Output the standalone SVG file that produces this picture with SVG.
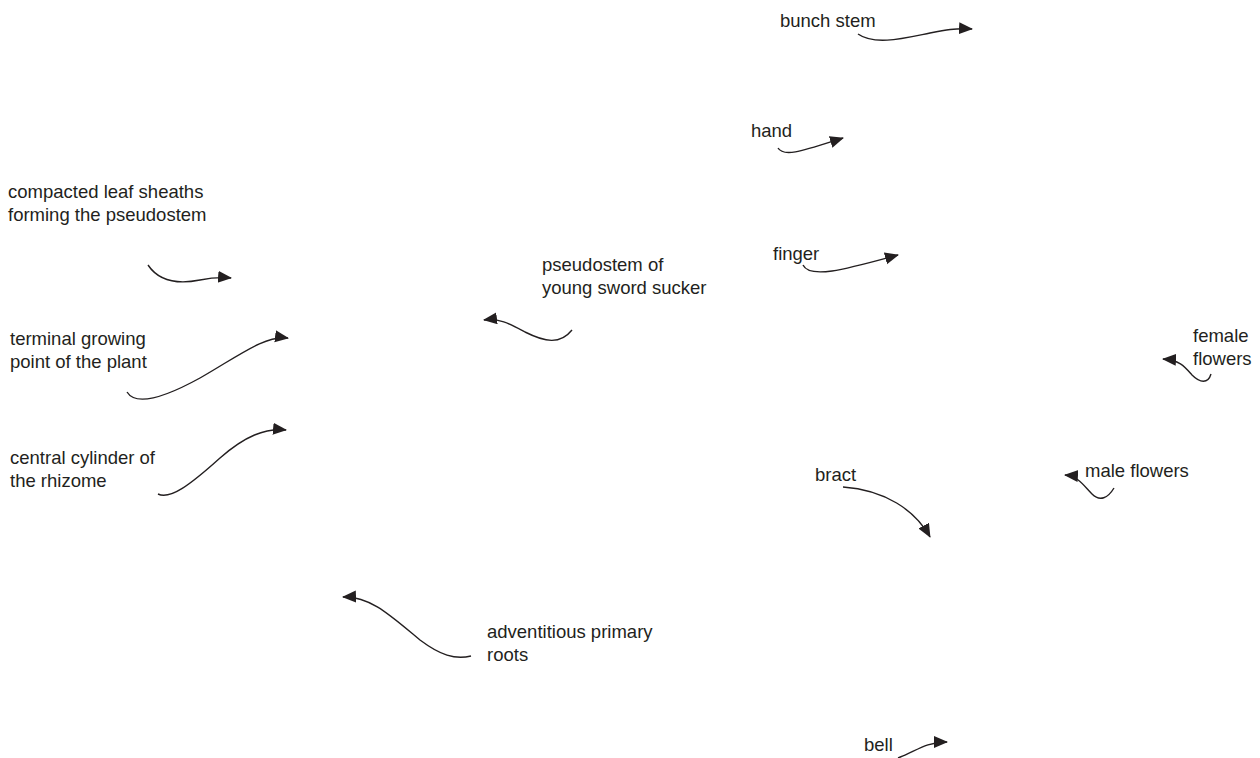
<svg xmlns="http://www.w3.org/2000/svg" width="1260" height="758" viewBox="0 0 1260 758">
<style>
text{font-family:"Liberation Sans",Arial,sans-serif;font-size:18.5px;fill:#231f20}
.c{fill:none;stroke:#231f20;stroke-width:1.4;marker-end:url(#ah)}
</style>
<defs>
<marker id="ah" markerUnits="userSpaceOnUse" markerWidth="16" markerHeight="14" refX="13" refY="6" orient="auto">
<path d="M0,0 L14,6 L0,12 z" fill="#231f20"/>
</marker>
</defs>
<rect width="1260" height="758" fill="#fff"/>
<g id="connectors">
<path class="c" d="M858,34 C875,46 905,38 930,33 C945,30 955,28 972,29"/>
<path class="c" d="M778,148 C784,158 805,150 843,138"/>
<path class="c" d="M803,265 C810,280 850,268 898,255"/>
<path class="c" d="M148,265 C158,280 175,285 200,280 C210,278 220,277 231,278"/>
<path class="c" d="M127,392 C135,405 160,400 200,378 C240,355 265,335 288,338"/>
<path class="c" d="M158,494 C170,500 190,485 220,458 C245,436 265,428 286,430"/>
<path class="c" d="M572,330 C560,345 545,342 525,332 C510,324 500,318 484,320"/>
<path class="c" d="M1211,374 C1208,384 1200,383 1192,375 C1185,367 1180,360 1163,359"/>
<path class="c" d="M1114,488 C1108,498 1100,502 1092,494 C1084,486 1078,476 1065,475"/>
<path class="c" d="M843,487 C885,490 915,510 930,537"/>
<path class="c" d="M471,656 C455,660 440,655 420,640 C390,615 370,596 343,597"/>
<path class="c" d="M898,758 C915,752 925,742 947,742"/>
</g>
<g id="bunch-stem"><text x="780" y="27">bunch stem</text></g>
<g id="hand"><text x="751" y="137">hand</text></g>
<g id="finger"><text x="773" y="260">finger</text></g>
<g id="compacted-leaf-sheaths"><text x="8" y="198">compacted leaf sheaths</text><text x="8" y="221">forming the pseudostem</text></g>
<g id="terminal-growing-point"><text x="10" y="345">terminal growing</text><text x="10" y="368">point of the plant</text></g>
<g id="central-cylinder"><text x="10" y="464">central cylinder of</text><text x="10" y="487">the rhizome</text></g>
<g id="pseudostem-sucker"><text x="542" y="271">pseudostem of</text><text x="542" y="294">young sword sucker</text></g>
<g id="female-flowers"><text x="1193" y="342">female</text><text x="1193" y="365">flowers</text></g>
<g id="male-flowers"><text x="1085" y="477">male flowers</text></g>
<g id="bract"><text x="815" y="481">bract</text></g>
<g id="adventitious-roots"><text x="487" y="638">adventitious primary</text><text x="487" y="661">roots</text></g>
<g id="bell"><text x="864" y="751">bell</text></g>
</svg>
